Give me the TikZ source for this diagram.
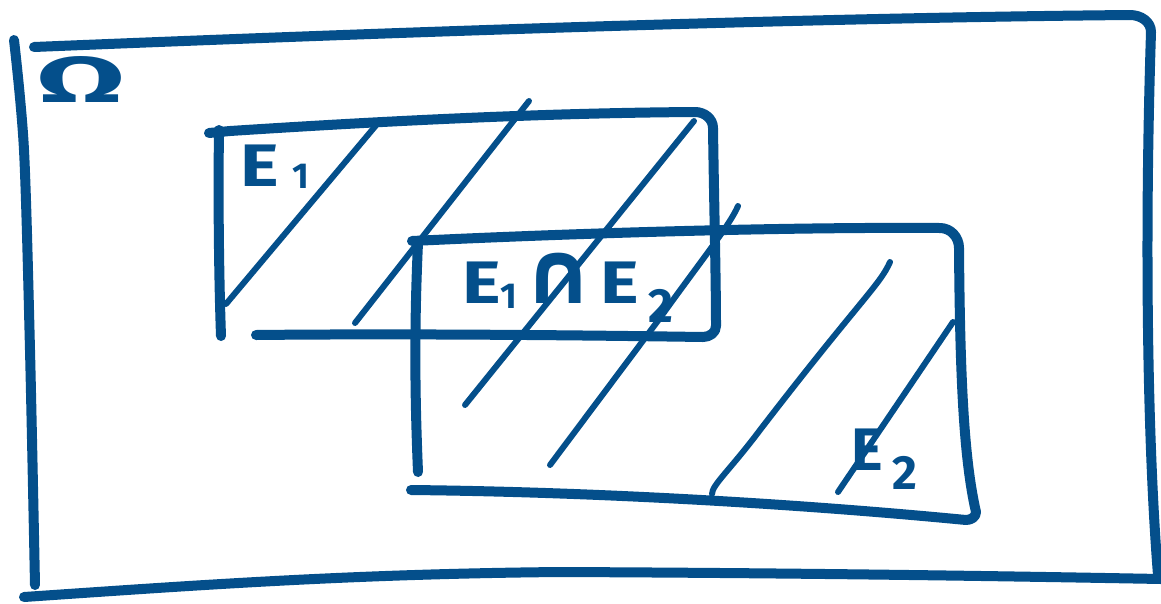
\documentclass[tikz,border=0pt]{standalone}
\usepackage{fontspec}
\setmainfont{Fira Sans}
\newfontfamily\symbfont{DejaVu Sans}
\definecolor{ink}{RGB}{4,79,139}
\newcommand{\lowidx}[3]{{\fontsize{#1}{#1}\selectfont\raisebox{#2}{#3}}}
\newcommand{\wideE}{\scalebox{1.22}[1]{E}}

\begin{document}
\begin{tikzpicture}[x=1pt,y=-1pt,line cap=round,line join=round,
  frame/.style={draw=ink,line width=10pt},
  hatch/.style={draw=ink,line width=6pt},
  lbl/.style={text=ink,inner sep=0pt,anchor=base west,font=\fontsize{60}{60}\selectfont\bfseries}]
\useasboundingbox (0,0) rectangle (1161,603);
\draw[frame] plot[smooth] coordinates {(14,40) (24,150) (30,350) (35,585)};
\draw[frame] (34,47) .. controls (400,32) and (800,18) .. (1130,15) to[out=0,in=90] (1151,32) .. controls (1144,250) and (1148,450) .. (1158,575);
\draw[frame] (24,597) .. controls (200,585) and (350,574) .. (560,572) .. controls (800,573) and (1000,576) .. (1161,579);
\draw[frame] (219,130) .. controls (218,200) and (219,280) .. (221,336);
\draw[frame] (209,133) -- (230,131) .. controls (400,120) and (550,113) .. (695,112) to[out=0,in=90] (713,128) .. controls (714,200) and (716,280) .. (716,326) to[out=-90,in=0] (703,337) .. controls (500,334) and (350,334) .. (256,335);
\draw[frame] (418,243) .. controls (414,330) and (415,400) .. (418,472);
\draw[frame] (412,241) .. controls (600,232) and (800,227) .. (940,228) to[out=0,in=90] (959,248) .. controls (960,380) and (964,460) .. (976,512) to[out=-90,in=0] (966,520) .. controls (800,504) and (600,492) .. (411,490);
\draw[hatch] (378,123) -- (226,304);
\draw[hatch] (529,101) -- (355,323);
\draw[hatch] (694,121) -- (465,405);
\draw[hatch] (738,206) .. controls (730,225) and (700,262) .. (660,318) -- (550,465);
\draw[hatch] (890,262) .. controls (880,285) and (860,300) .. (760,430) .. controls (730,470) and (712,485) .. (712,494);
\draw[hatch] (953,322) -- (838,492);
\node[lbl] (om) at (36,102) {\scalebox{2.15}[1.08]{Ω}};
\node[lbl] (e1) at (240,186) {\wideE\hspace{14pt}\lowidx{36}{-2pt}{1}};
\node[lbl] (cap) at (462,303) {\wideE\lowidx{36}{-5pt}{1}\hspace{6pt}{\symbfont\scalebox{1.45}{∩}}\hspace{6pt}\wideE\hspace{10pt}\lowidx{48}{-19pt}{2}};
\node[lbl] (e2) at (851,470) {E\hspace{10pt}\lowidx{48}{-19pt}{2}};
\end{tikzpicture}
\end{document}
